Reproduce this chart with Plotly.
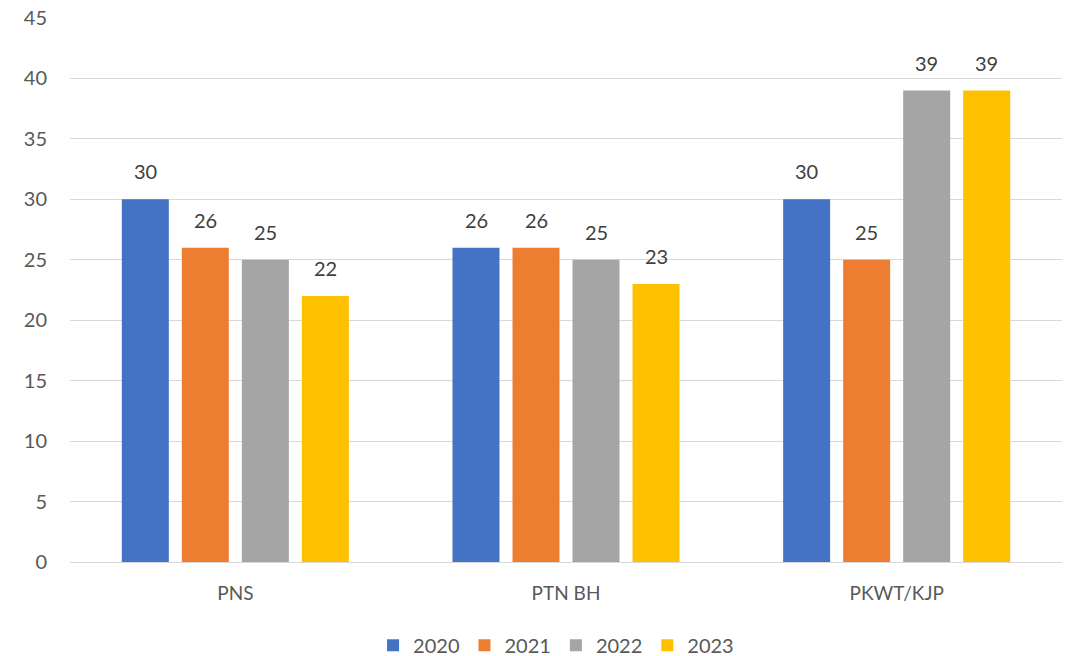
import plotly.graph_objects as go

# categories and series
categories = ['PNS', 'PTN BH', 'PKWT/KJP']
years = ['2020', '2021', '2022', '2023']
values = {
    '2020': [30, 26, 30],
    '2021': [26, 26, 25],
    '2022': [25, 25, 39],
    '2023': [22, 23, 39],
}
colors = ['#4472C4', '#ED7D31', '#A5A5A5', '#FFC000']

FONT = 'Lato'

fig = go.Figure()
for year, color in zip(years, colors):
    fig.add_trace(go.Bar(x=categories, y=values[year], name=year,
                         marker=dict(color=color, line=dict(width=0))))

# data labels above each bar
n = len(years)
slot = 60  # px per bar slot inside a group
for i, year in enumerate(years):
    shift = (i - (n - 1) / 2) * slot
    for cat, v in zip(categories, values[year]):
        fig.add_annotation(x=cat, y=v, text=str(v), showarrow=False,
                           xshift=shift, yshift=14, yanchor='bottom',
                           font=dict(family=FONT, size=20, color='#404040'))

fig.update_layout(
    width=1066, height=656,
    margin=dict(l=70, r=4, t=18, b=94, autoexpand=False),
    plot_bgcolor='white', paper_bgcolor='white',
    barmode='group', bargap=0.274, bargroupgap=0.217,
    font=dict(family=FONT, size=19, color='#595959'),
    legend=dict(orientation='h', x=0.49, xanchor='center', y=-0.153, yanchor='middle',
                font=dict(family=FONT, size=20, color='#595959'),
                itemwidth=30, traceorder='normal'),
)
fig.update_yaxes(range=[0, 45], dtick=5, showgrid=True, gridcolor='#D9D9D9', gridwidth=1.3,
                 zeroline=True, zerolinecolor='#D9D9D9', zerolinewidth=1.3,
                 showline=False, ticks='outside', ticklen=18, tickcolor='rgba(0,0,0,0)',
                 automargin=False,
                 tickfont=dict(family=FONT, size=20, color='#595959'))
fig.update_xaxes(showgrid=False, showline=False, ticks='outside', ticklen=14,
                 tickcolor='rgba(0,0,0,0)', automargin=False,
                 tickfont=dict(family=FONT, size=19, color='#595959'))

# drop the browser's default body margin so the figure fills the window
fig.write_html('out.html', config={'displayModeBar': False},
               post_script="document.body.style.margin='0';")
